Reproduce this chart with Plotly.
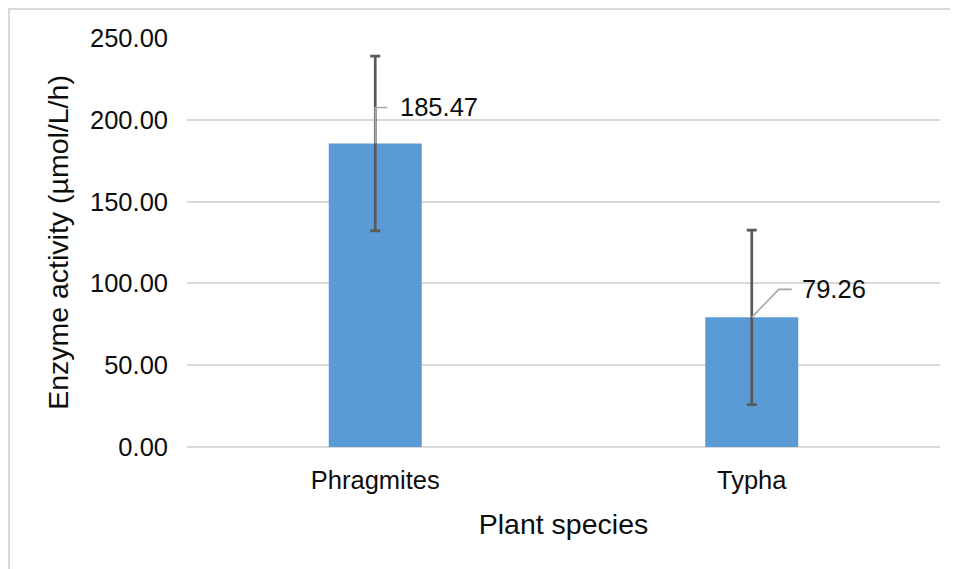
import plotly.graph_objects as go

species = ["Phragmites", "Typha"]
activity = [185.47, 79.26]
errors = [53.4, 53.3]
y_ticks = [0, 50, 100, 150, 200, 250]
y_tick_labels = ["0.00", "50.00", "100.00", "150.00", "200.00", "250.00"]

FONT = "Liberation Sans, Arial, sans-serif"
TXT = "#0d0d0d"
GRID = "#D9D9D9"

fig = go.Figure()
fig.add_trace(go.Bar(
    x=species, y=activity, width=0.247,
    marker=dict(color="#5B9BD5", line=dict(width=0)),
    error_y=dict(type="data", array=errors, visible=True,
                 color="#595959", thickness=2.7, width=5),
    showlegend=False, hoverinfo="x+y",
))

# leader lines (pixel offsets anchored at the data point) and data labels
leaders = ["M0,0 L0,36 L12,36", "M0,0 L27,28 L40,28"]
label_shift = [(23, 36.5), (48, 28.5)]
for cat, val, path, (dx, dy) in zip(species, activity, leaders, label_shift):
    fig.add_shape(type="path", xref="x", yref="y",
                  xsizemode="pixel", ysizemode="pixel",
                  xanchor=cat, yanchor=val, path=path,
                  line=dict(color="#A6A6A6", width=1.6), layer="above")
    fig.add_annotation(x=cat, y=val, text=f"{val:.2f}", showarrow=False,
                       xanchor="left", yanchor="middle", xshift=dx, yshift=dy,
                       font=dict(family=FONT, size=25.5, color=TXT))

# chart border (top/left edges of the chart area)
fig.add_shape(type="rect", xref="paper", yref="paper",
              x0=-0.2364, x1=1.03, y0=-0.32, y1=1.0709,
              line=dict(color=GRID, width=2), fillcolor="rgba(0,0,0,0)", layer="below")

fig.update_layout(
    width=950, height=561,
    margin=dict(l=179, r=18, t=30, b=122),
    paper_bgcolor="white", plot_bgcolor="white",
    font=dict(family=FONT, color=TXT),
    xaxis=dict(
        range=[-0.5, 1.5], showgrid=False, showline=False, zeroline=False,
        ticks="", tickfont=dict(size=25.5, color=TXT), ticklabelstandoff=15,
        title=dict(text="Plant species", font=dict(size=28.5, color=TXT), standoff=21),
    ),
    yaxis=dict(
        range=[0, 250], tickvals=y_ticks, ticktext=y_tick_labels,
        showgrid=True, gridcolor=GRID, gridwidth=2,
        zeroline=True, zerolinecolor=GRID, zerolinewidth=2,
        showline=False, ticks="", tickfont=dict(size=25.5, color=TXT),
        ticklabelstandoff=18,
        title=dict(text="Enzyme activity (µmol/L/h)", font=dict(size=28.5, color=TXT), standoff=13),
    ),
)

fig.write_html("out.html")
